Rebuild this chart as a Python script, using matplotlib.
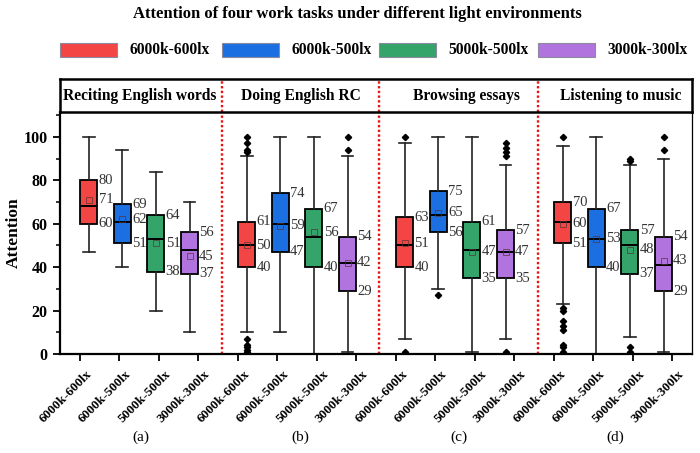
import numpy as np
import matplotlib
matplotlib.use("Agg")
import matplotlib.pyplot as plt
from matplotlib.patches import Rectangle
from matplotlib.transforms import blended_transform_factory, ScaledTranslation

plt.rcParams['font.family'] = ['Liberation Serif', 'DejaVu Serif']

# ---------------- data ----------------
title = "Attention of four work tasks under different light environments"
conditions = ["6000k-600lx", "6000k-500lx", "5000k-500lx", "3000k-300lx"]
tasks = ["Reciting English words", "Doing English RC", "Browsing essays", "Listening to music"]
panel_letters = ["(a)", "(b)", "(c)", "(d)"]
colors = ["#f44545", "#1c6fe0", "#35a46a", "#b173dd"]

# order: task-major, within task: conditions in order above
q3 = [80, 69, 64, 56, 61, 74, 67, 54, 63, 75, 61, 57, 70, 67, 57, 54]
mean = [71, 62, 51, 45, 50, 59, 56, 42, 51, 65, 47, 47, 60, 53, 48, 43]
q1 = [60, 51, 38, 37, 40, 47, 40, 29, 40, 56, 35, 35, 51, 40, 37, 29]
median = [68, 61, 53, 48, 50, 60, 54, 42, 50, 64, 48, 47, 61, 53, 50, 41]
whis_hi = [100, 94, 84, 70, 91, 100, 100, 91, 97, 100, 100, 87, 96, 100, 87, 90]
whis_lo = [47, 40, 20, 10, 10, 10, 0, 1, 7, 30, 1, 7, 23, 0, 8, 1]
fliers = [
    [], [], [], [],
    [100, 97, 94, 93, 7, 4, 3, 2, 1, 0], [], [], [100, 94],
    [100, 1], [27], [], [97, 95, 93, 91, 1],
    [100, 21, 20, 15, 13, 11, 4, 3, 1], [], [90, 89, 3, 1], [100, 94],
]

# ---------------- layout ----------------
W, H = 700, 453
def fx(p): return p / W
def fy(p): return 1 - p / H

fig = plt.figure(figsize=(7.0, 4.53), dpi=100)
ax = fig.add_axes([fx(60), fy(354), (692 - 60) / W, (354 - 112) / H])
hax = fig.add_axes([fx(60), fy(112), (692 - 60) / W, (112 - 79) / H])

n_t, n_c = len(tasks), len(conditions)
group_w, offset, step, box_w = 4.0, 0.73, 0.85, 0.43
positions = [g * group_w + offset + i * step for g in range(n_t) for i in range(n_c)]
dividers = [4.1, 8.08, 12.1]
panel_centers = [2.05, 6.09, 10.09, 14.05]

stats = []
for k in range(n_t * n_c):
    stats.append(dict(med=median[k], q1=q1[k], q3=q3[k], mean=mean[k],
                      whislo=whis_lo[k], whishi=whis_hi[k], fliers=fliers[k]))

bp = ax.bxp(stats, positions=positions, widths=box_w, patch_artist=True,
            showmeans=True, capwidths=0.3,
            meanprops=dict(marker='s', markerfacecolor='none', markeredgecolor='#553333',
                           markersize=4, markeredgewidth=0.7, alpha=0.7),
            flierprops=dict(marker='D', markerfacecolor='black', markeredgecolor='black',
                            markersize=3.2),
            medianprops=dict(color='black', linewidth=1.4),
            boxprops=dict(edgecolor='black', linewidth=1.3),
            whiskerprops=dict(color='#222222', linewidth=1.2),
            capprops=dict(color='#222222', linewidth=1.2))
for k, patch in enumerate(bp['boxes']):
    patch.set_facecolor(colors[k % n_c])

# value labels
for k, x in enumerate(positions):
    xr = x + box_w / 2 + 0.03
    for v in (q3[k], mean[k], q1[k]):
        ax.text(xr, v, str(v), ha='left', va='center', fontsize=10.5, color='#333333')

ax.set_xlim(0, 16)
ax.set_ylim(0, 111.5)
ax.set_yticks(np.arange(0, 101, 20))
ax.set_yticks(np.arange(10, 111, 20), minor=True)
ax.tick_params(axis='y', which='major', direction='out', length=5, width=1.3,
               labelsize=11.5, pad=4)
ax.tick_params(axis='y', which='minor', direction='out', length=3, width=1.1)
for t in ax.get_yticklabels():
    t.set_fontweight('bold')

ax.set_xticks(np.arange(16) + 0.5)
ax.set_xticklabels(conditions * n_t, fontsize=9.5, fontweight='bold')
ax.tick_params(axis='x', direction='out', length=5, width=1.3, pad=2)
off = ScaledTranslation(4 / 72, -3 / 72, fig.dpi_scale_trans)
for t in ax.get_xticklabels():
    t.set_rotation(45)
    t.set_ha('right')
    t.set_va('top')
    t.set_rotation_mode('anchor')
    t.set_transform(t.get_transform() + off)

ax.set_ylabel("Attention", fontsize=12.5, fontweight='bold')
ax.yaxis.set_label_coords(-0.06, 0.5)

ax.spines['top'].set_visible(False)
ax.spines['left'].set_linewidth(1.6)
ax.spines['bottom'].set_linewidth(1.6)
ax.spines['right'].set_linewidth(0.9)

for d in dividers:
    ax.axvline(d, color='#ee1111', linestyle=(0, (1, 1)), linewidth=1.7, zorder=0)
    hax.axvline(d, color='#ee1111', linestyle=(0, (1, 1)), linewidth=1.7)

# header
hax.set_xlim(0, 16)
hax.set_ylim(0, 1)
hax.set_xticks([])
hax.set_yticks([])
for s in hax.spines.values():
    s.set_linewidth(1.8)
header_x = [2.03, 6.09, 10.3, 14.2]
for txt, hx in zip(tasks, header_x):
    hax.text(hx, 0.5, txt, ha='center', va='center', fontsize=11.2, fontweight='bold')

# panel letters
tr = blended_transform_factory(ax.transData, fig.transFigure)
for lt, pc in zip(panel_letters, panel_centers):
    ax.text(pc, fy(437), lt, transform=tr, ha='center', va='center', fontsize=11,
            clip_on=False)

# title
fig.text(fx(357), fy(14), title, ha='center', va='center', fontsize=12, fontweight='bold')

# legend
patch_left = [60, 222, 379, 538]
for lab, c, pl in zip(conditions, colors, patch_left):
    fig.add_artist(Rectangle((fx(pl), fy(56.5)), 57 / W, 13 / H, transform=fig.transFigure,
                             facecolor=c, edgecolor='#8a8aa0', linewidth=0.8))
    fig.text(fx(pl + 69), fy(50), lab, ha='left', va='center', fontsize=11.2,
             fontweight='bold')

fig.savefig("out.png", dpi=100)
